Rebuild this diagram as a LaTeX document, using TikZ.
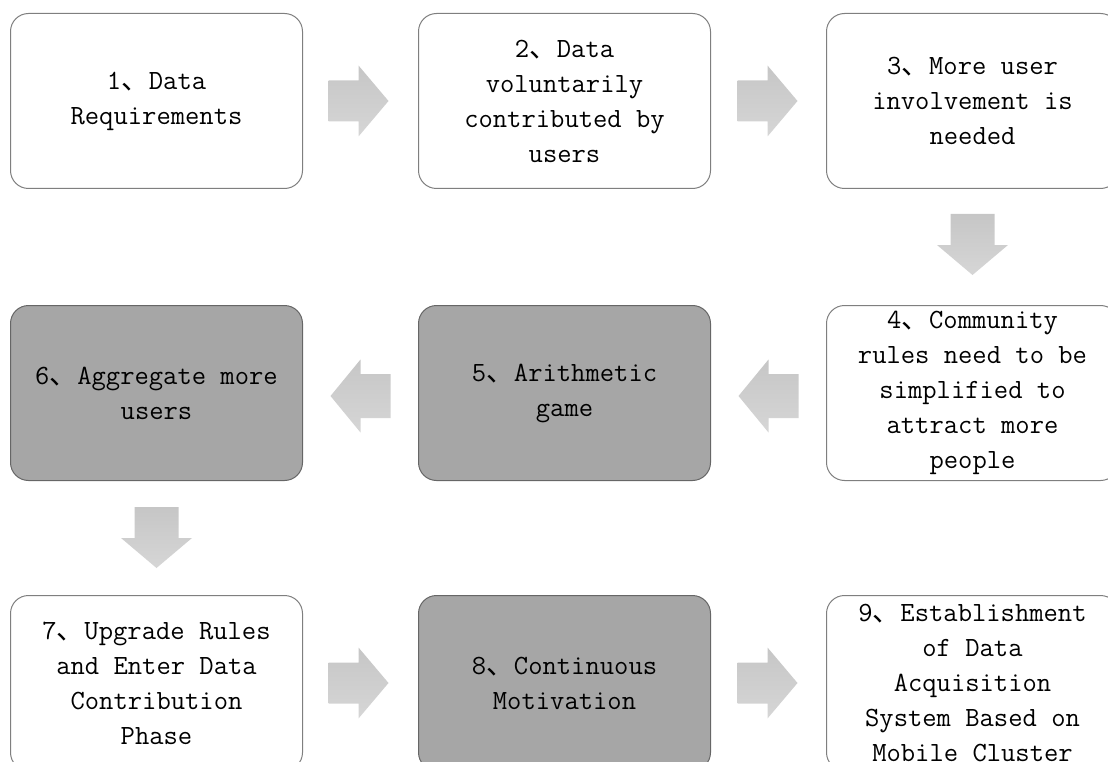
\documentclass[tikz,border=0pt]{standalone}
\usepackage{fontspec}
\newfontfamily\cjk{Noto Sans CJK SC}
\newcommand{\dn}{{\cjk 、}}
\usetikzlibrary{calc}
\definecolor{bordW}{HTML}{7F7F7F}
\definecolor{bordG}{HTML}{666666}
\definecolor{fillG}{HTML}{A6A6A6}
\definecolor{arrTop}{HTML}{C6C6C6}
\definecolor{arrBot}{HTML}{D6D6D6}
\begin{document}
\begin{tikzpicture}[x=1pt,y=-1pt,
  box/.style={draw=bordW, line width=1pt, rounded corners=18pt,
    minimum width=292pt, minimum height=175pt, anchor=north west,
    align=center, inner sep=0pt, text=black, fill=white,
    font=\ttfamily\fontsize{27.8}{35}\selectfont},
  graybox/.style={box, fill=fillG, draw=bordG},
  rarr/.pic={\shade[top color=arrTop,bottom color=arrBot]
    (-30,-20.5) -- (0,-20.5) -- (0,-35.5) -- (30,0) -- (0,35.5) -- (0,20.5) -- (-30,20.5) -- cycle;},
  larr/.pic={\shade[top color=arrTop,bottom color=arrBot]
    (30,-22) -- (0,-22) -- (0,-36.5) -- (-30,0) -- (0,36.5) -- (0,22) -- (30,22) -- cycle;},
  darr/.pic={\shade[top color=arrTop,bottom color=arrBot]
    (-22,-31) -- (22,-31) -- (22,0) -- (35.5,0) -- (0,30) -- (-35.5,0) -- (-22,0) -- cycle;}
]
\useasboundingbox (0,0) rectangle (1108,762);

\node[box] (b1) at (10,13) {1\dn Data\\Requirements};
\node[box] (b2) at (418,13) {2\dn Data\\voluntarily\\contributed by\\users};
\node[box] (b3) at (826,13) {3\dn More user\\involvement is\\needed};

\node[box] (b4) at (826,305) {4\dn Community\\rules need to be\\simplified to\\attract more\\people};
\node[graybox] (b5) at (418,305) {5\dn Arithmetic\\game};
\node[graybox] (b6) at (10,305) {6\dn Aggregate more\\users};

\node[box] (b7) at (10,595) {7\dn Upgrade Rules\\and Enter Data\\Contribution\\Phase};
\node[graybox] (b8) at (418,595) {8\dn Continuous\\Motivation};
\node[box] (b9) at (826,595) {9\dn Establishment\\of Data\\Acquisition\\System Based on\\Mobile Cluster};

\pic at ($(b1.east)!0.5!(b2.west)+(-2,0)$) {rarr};
\pic at ($(b2.east)!0.5!(b3.west)+(-1,0)$) {rarr};
\pic at ($(b3.south)!0.5!(b4.north)+(0,-2)$) {darr};
\pic at ($(b4.west)!0.5!(b5.east)+(0,3)$) {larr};
\pic at ($(b5.west)!0.5!(b6.east)+(0,3)$) {larr};
\pic at ($(b6.south)!0.5!(b7.north)$) {darr};
\pic at ($(b7.east)!0.5!(b8.west)+(-2,0)$) {rarr};
\pic at ($(b8.east)!0.5!(b9.west)+(-1,0)$) {rarr};
\end{tikzpicture}
\end{document}
